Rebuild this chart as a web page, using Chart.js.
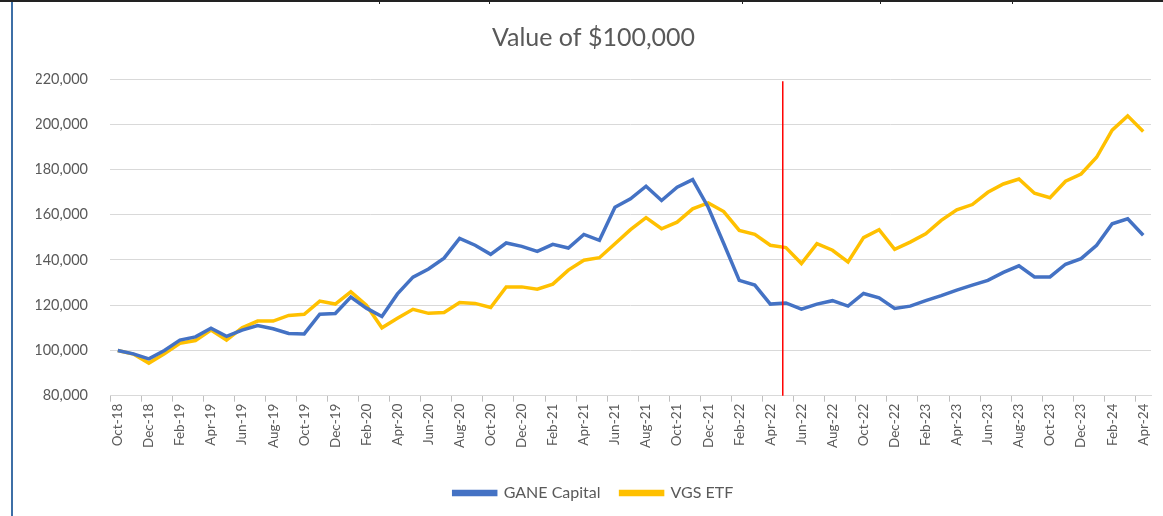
<!DOCTYPE html>
<html>
<head>
<meta charset="utf-8">
<script src="https://cdn.jsdelivr.net/npm/chart.js@4.4.1/dist/chart.umd.min.js"></script>
<style>
  html, body { margin: 0; padding: 0; background: #fff; }
  #wrap { position: relative; width: 1163px; height: 516px; overflow: hidden; }
  #topline { position: absolute; left: 0; top: 0; width: 1163px; height: 2px; background: #222; }
  .sep { position: absolute; top: 0; width: 1px; height: 4px; background: #222; }
  #leftline { position: absolute; left: 11px; top: 2px; width: 2px; height: 514px; background: #3d6fa6; }
  #box { position: absolute; left: 0; top: 0; width: 1163px; height: 516px; }
</style>
</head>
<body>
<div id="wrap">
  <div id="box"><canvas id="myChart"></canvas></div>
  <div id="topline"></div>
  <div class="sep" style="left:379px"></div>
  <div class="sep" style="left:489px"></div>
  <div class="sep" style="left:742px"></div>
  <div class="sep" style="left:880px"></div>
  <div class="sep" style="left:1012px"></div>
  <div id="leftline"></div>
</div>
<script>
// 月份 (Oct-18 ~ Apr-24)
const months = [
    'Oct-18', 'Nov-18', 'Dec-18',
    'Jan-19', 'Feb-19', 'Mar-19', 'Apr-19', 'May-19', 'Jun-19', 'Jul-19', 'Aug-19', 'Sep-19', 'Oct-19', 'Nov-19', 'Dec-19',
    'Jan-20', 'Feb-20', 'Mar-20', 'Apr-20', 'May-20', 'Jun-20', 'Jul-20', 'Aug-20', 'Sep-20', 'Oct-20', 'Nov-20', 'Dec-20',
    'Jan-21', 'Feb-21', 'Mar-21', 'Apr-21', 'May-21', 'Jun-21', 'Jul-21', 'Aug-21', 'Sep-21', 'Oct-21', 'Nov-21', 'Dec-21',
    'Jan-22', 'Feb-22', 'Mar-22', 'Apr-22', 'May-22', 'Jun-22', 'Jul-22', 'Aug-22', 'Sep-22', 'Oct-22', 'Nov-22', 'Dec-22',
    'Jan-23', 'Feb-23', 'Mar-23', 'Apr-23', 'May-23', 'Jun-23', 'Jul-23', 'Aug-23', 'Sep-23', 'Oct-23', 'Nov-23', 'Dec-23',
    'Jan-24', 'Feb-24', 'Mar-24', 'Apr-24'
];

const gane = [
    100000, 98500, 96300,
    100000, 104600, 106000, 109800, 106200, 109000, 111000, 109600, 107500, 107300, 116000, 116300,
    123600, 118700, 115000, 125000, 132400, 136000, 140800, 149500, 146500, 142500, 147500, 146000,
    143800, 146900, 145300, 151300, 148700, 163300, 167000, 172600, 166300, 172200, 175500, 163300,
    147300, 131000, 128900, 120500, 121000, 118300, 120500, 122000, 119600, 125200, 123300, 118600,
    119600, 122000, 124200, 126700, 128900, 131000, 134500, 137400, 132500, 132500, 138100, 140600,
    146500, 156000, 158200, 150900
];

const vgs = [
    100000, 98400, 94400,
    98500, 103200, 104400, 109000, 104600, 110000, 113000, 113000, 115500, 116000, 121800, 120500,
    125900, 120000, 110000, 114200, 118200, 116400, 116800, 121200, 120800, 119000, 128100, 128100,
    127100, 129300, 135500, 139900, 141000, 147200, 153400, 158700, 153800, 156700, 162600, 165200,
    161400, 153100, 151300, 146500, 145500, 138400, 147200, 144300, 139100, 149900, 153400, 144700,
    147900, 151600, 157500, 162200, 164500, 169900, 173600, 175800, 169500, 167500, 174800, 178000,
    185400, 197400, 203700, 196800
];

const y_ticks = [80000, 220000, 20000]; // min, max, step
const marker_pos = 42.8; // 紅線位置 (Apr-22 與 May-22 之間)

const textColor = '#595959';
const gridColor = '#d9d9d9';

// 紅色垂直線
const markerLine = {
    id: 'markerLine',
    afterDatasetsDraw(chart) {
        const xs = chart.scales.x;
        const ys = chart.scales.y;
        const i = Math.floor(marker_pos);
        const x = xs.getPixelForValue(i) + (xs.getPixelForValue(i + 1) - xs.getPixelForValue(i)) * (marker_pos - i);
        const ctx = chart.ctx;
        ctx.save();
        ctx.strokeStyle = '#ff0000';
        ctx.lineWidth = 1.5;
        ctx.beginPath();
        ctx.moveTo(x, ys.getPixelForValue(219000));
        ctx.lineTo(x, ys.bottom);
        ctx.stroke();
        ctx.restore();
    }
};

Chart.defaults.font.family = 'Lato, "Open Sans", sans-serif';
Chart.defaults.color = textColor;

const ctx = document.getElementById('myChart').getContext('2d');
const lineChart = new Chart(ctx, {
    type: 'line',
    data: {
        labels: months,
        datasets: [
            {
                label: 'GANE Capital',
                data: gane,
                borderColor: '#4472c4',
                backgroundColor: '#4472c4',
                borderWidth: 3.5,
                pointRadius: 0,
                tension: 0
            },
            {
                label: 'VGS ETF',
                data: vgs,
                borderColor: '#ffc000',
                backgroundColor: '#ffc000',
                borderWidth: 3.5,
                pointRadius: 0,
                tension: 0
            }
        ]
    },
    options: {
        responsive: true,
        maintainAspectRatio: false,
        animation: false,
        layout: {
            padding: { left: 36, right: 12, top: 0, bottom: 5 }
        },
        scales: {
            x: {
                offset: true,
                grid: {
                    offset: true,
                    drawOnChartArea: false,
                    drawTicks: true,
                    tickLength: 6,
                    tickColor: (c) => (c.index % 2 === 0 ? '#bfbfbf' : 'rgba(0,0,0,0)')
                },
                border: { display: true, color: gridColor, width: 1 },
                ticks: {
                    autoSkip: false,
                    minRotation: 90,
                    maxRotation: 90,
                    padding: 2,
                    font: { size: 13.5 },
                    callback: function (value, index) {
                        return index % 2 === 0 ? this.getLabelForValue(value) : '';
                    }
                }
            },
            y: {
                min: y_ticks[0],
                max: y_ticks[1],
                grid: { color: gridColor, drawTicks: false },
                border: { display: false },
                afterFit: (scale) => { scale.width = 74; },
                ticks: {
                    stepSize: y_ticks[2],
                    padding: 22,
                    font: { size: 14.5 },
                    callback: (v) => v.toLocaleString('en-US')
                }
            }
        },
        plugins: {
            title: {
                display: true,
                text: 'Value of $100,000',
                color: textColor,
                font: { size: 25, weight: 'normal' },
                padding: { top: 23, bottom: 26 }
            },
            legend: {
                position: 'bottom',
                title: { display: true, text: ' ', font: { size: 12.5 }, padding: 0 },
                labels: {
                    boxWidth: 42,
                    boxHeight: 3,
                    padding: 20,
                    font: { size: 16 },
                    color: textColor
                }
            },
            tooltip: { enabled: false }
        }
    },
    plugins: [markerLine]
});
</script>
</body>
</html>
